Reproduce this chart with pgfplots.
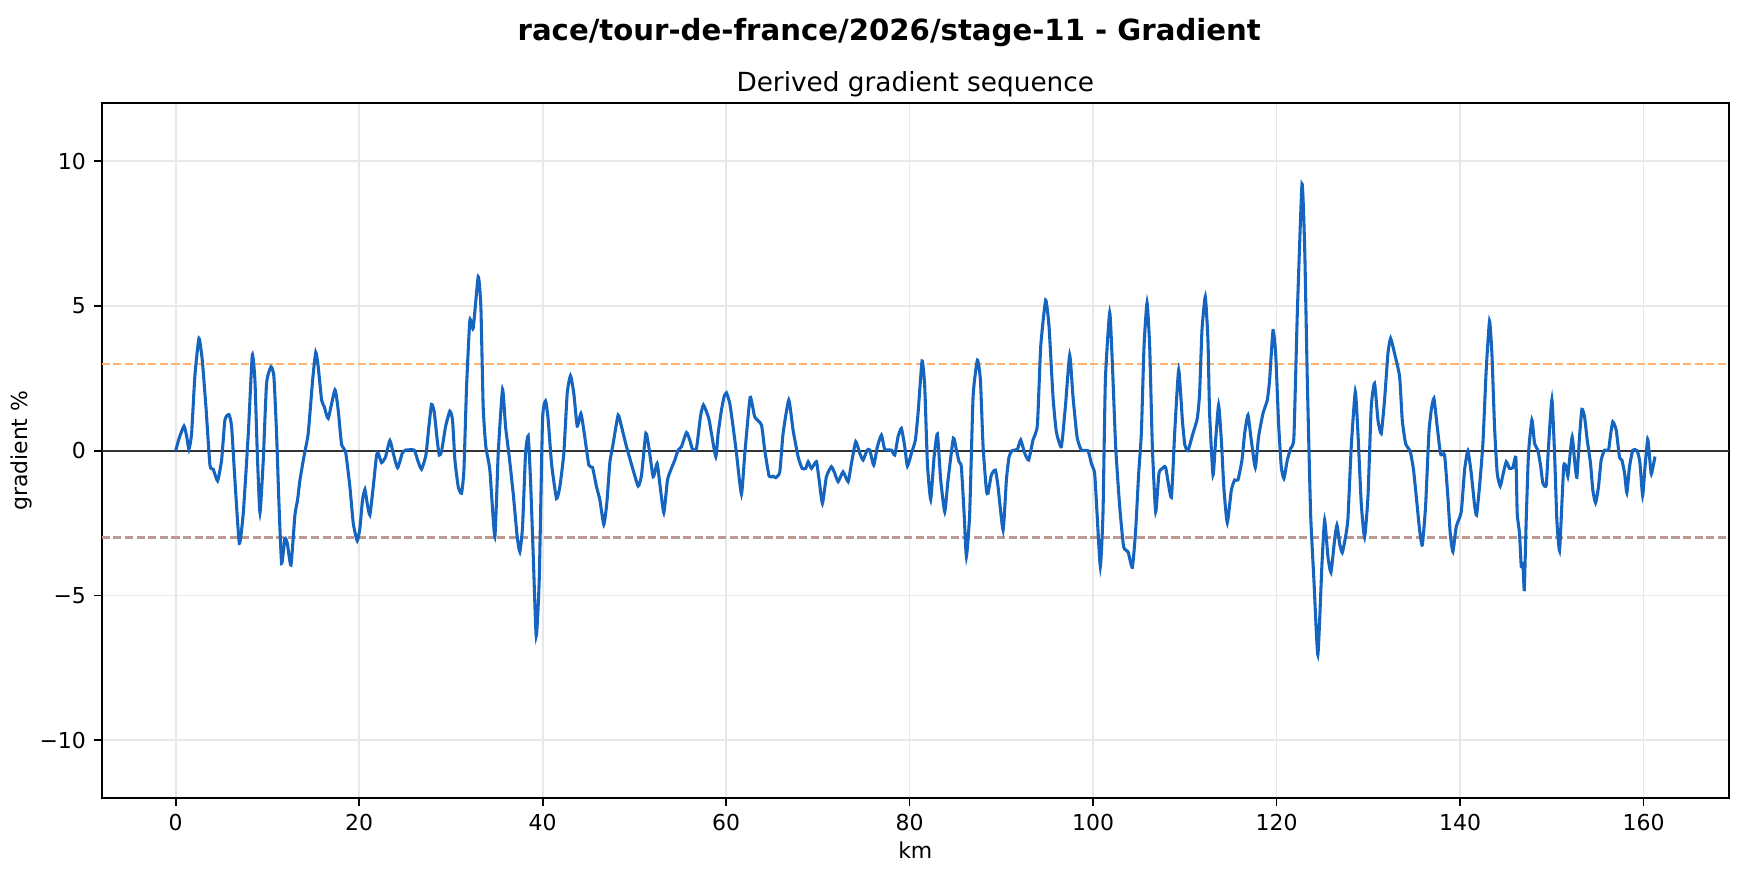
\documentclass[border=0pt]{standalone}
\usepackage{fontspec}
\setmainfont{DejaVu Sans}
\usepackage{pgfplots}
\pgfplotsset{compat=1.18}
\definecolor{gline}{RGB}{21,101,192}
\definecolor{torange}{RGB}{255,178,110}
\definecolor{tbrown}{RGB}{186,154,147}
\definecolor{gridc}{RGB}{232,232,232}
\begin{document}
\begin{tikzpicture}
\useasboundingbox (-46.36pt,-35.05pt) rectangle (748.6pt,363.8pt);
\begin{axis}[
  at={(0,0)}, anchor=south west,
  scale only axis, width=741.7pt, height=316.7pt,
  xmin=-8.06, xmax=169.3, ymin=-12, ymax=12,
  xtick={0,20,...,160}, ytick={-10,-5,0,5,10},
  yticklabels={−10,−5,0,5,10},
  xtick pos=lower, ytick pos=left,
  tick align=outside, major tick length=3.5pt,
  grid=major, major grid style={color=gridc, line width=0.8pt},
  axis line style={line width=0.8pt, black},
  tick style={line width=0.8pt, black},
  /pgf/number format/assume math mode=true,
  tick label style={font=\fontsize{10}{12}\selectfont},
  xticklabel style={inner sep=0pt, anchor=north, yshift=-3.5pt},
  yticklabel style={inner sep=0pt, anchor=east, xshift=-3.5pt},
  xlabel={km}, ylabel={gradient \%},
  xlabel style={yshift=-1.5pt},
  label style={font=\fontsize{10}{12}\selectfont},
]
\addplot[black!80, line width=0.8pt, forget plot] coordinates {(-8.06,0) (169.3,0)};
\addplot[torange, line width=1pt, dash pattern=on 3.7pt off 1.6pt, forget plot] coordinates {(-8.06,3) (169.3,3)};
\addplot[tbrown, line width=1pt, dash pattern=on 3.7pt off 1.6pt, forget plot] coordinates {(-8.06,-3) (169.3,-3)};
\addplot[gline, line width=1.4pt, smooth, tension=0.3] table {
0.0 0.0
0.4 0.45
0.91 0.85
1.2 0.5
1.45 0.05
1.74 0.6
2.1 2.6
2.54 3.88
2.9 3.13
3.3 1.52
3.74 -0.5
4.1 -0.64
4.57 -1.04
5.01 -0.32
5.37 1.06
5.81 1.25
6.1 0.83
6.46 -1.01
6.94 -3.2
7.37 -2.16
7.92 0.6
8.35 3.3
8.64 2.44
8.9 -0.09
9.19 -2.14
9.55 -0.32
9.91 2.33
10.39 2.9
10.71 2.56
11.0 0.6
11.26 -1.82
11.55 -3.89
11.91 -3.03
12.17 -3.2
12.57 -3.95
13.0 -2.22
13.29 -1.7
13.55 -1.01
13.98 -0.21
14.45 0.6
14.93 2.44
15.27 3.4
15.54 2.9
15.91 1.75
16.2 1.52
16.63 1.12
17.36 2.1
17.72 1.4
18.09 0.2
18.52 -0.03
18.99 -1.24
19.36 -2.51
19.79 -3.11
20.08 -2.68
20.37 -1.7
20.63 -1.34
20.88 -1.82
21.17 -2.22
21.54 -1.24
21.9 -0.15
22.08 -0.09
22.45 -0.41
22.88 -0.21
23.35 0.35
23.72 -0.09
24.19 -0.59
24.7 -0.09
25.06 0.02
26.0 0.02
26.37 -0.32
26.8 -0.64
27.28 -0.15
27.6 0.83
27.89 1.6
28.18 1.35
28.51 0.37
28.73 -0.15
28.98 -0.03
29.42 0.83
29.89 1.37
30.18 1.06
30.44 -0.32
30.8 -1.24
31.16 -1.47
31.42 -0.67
31.71 2.21
32.07 4.51
32.43 4.23
32.98 6.01
33.27 4.97
33.52 1.52
33.81 0.14
34.25 -0.67
34.79 -2.97
35.16 -0.09
35.63 2.12
35.96 0.83
36.36 -0.21
36.79 -1.47
37.23 -2.97
37.52 -3.49
37.81 -2.63
38.14 -0.09
38.43 0.51
38.68 -1.01
38.97 -3.55
39.3 -6.4
39.63 -4.47
39.99 1.06
40.32 1.72
40.61 1.06
40.97 -0.44
41.51 -1.65
41.88 -1.24
42.31 -0.09
42.68 1.98
43.04 2.59
43.4 1.98
43.77 0.85
44.17 1.29
44.49 0.71
45.04 -0.5
45.44 -0.58
45.87 -1.24
46.24 -1.7
46.67 -2.55
47.0 -1.8
47.33 -0.4
47.69 0.25
48.23 1.23
48.6 0.83
49.14 0.14
49.76 -0.55
50.41 -1.22
50.78 -0.84
51.25 0.6
51.57 0.14
52.05 -0.9
52.48 -0.44
52.77 -1.13
53.21 -2.14
53.61 -1.01
54.04 -0.61
54.41 -0.32
54.77 0.02
55.13 0.14
55.68 0.63
56.04 0.37
56.33 0.05
56.77 0.08
57.2 1.17
57.53 1.58
58.11 1.12
58.4 0.6
58.88 -0.21
59.13 0.6
59.49 1.4
59.78 1.87
60.04 2.0
60.4 1.63
60.76 0.83
61.13 -0.09
61.67 -1.5
62.04 -0.09
62.62 1.84
63.12 1.17
63.85 0.89
64.21 0.02
64.69 -0.88
65.12 -0.88
65.41 -0.93
65.85 -0.73
66.21 0.6
66.83 1.75
67.3 0.71
67.85 -0.21
68.28 -0.61
68.68 -0.61
68.94 -0.38
69.3 -0.61
69.84 -0.38
70.14 -1.01
70.5 -1.82
70.93 -0.9
71.48 -0.55
71.84 -0.78
72.21 -1.07
72.75 -0.73
73.3 -1.07
73.66 -0.44
74.13 0.31
74.57 -0.09
74.93 -0.32
75.37 0.02
75.66 0.02
76.09 -0.5
76.49 0.14
76.93 0.54
77.29 0.05
78.02 0.02
78.38 -0.15
78.74 0.48
79.11 0.77
79.47 0.14
79.76 -0.53
80.2 -0.09
80.63 0.37
80.92 1.29
81.36 3.1
81.65 2.21
81.94 -0.44
82.3 -1.68
82.67 -0.21
83.03 0.58
83.39 -1.01
83.83 -2.11
84.19 -1.01
84.77 0.43
85.1 0.02
85.39 -0.38
85.64 -0.55
85.94 -2.16
86.19 -3.66
86.55 -2.16
86.92 1.87
87.39 3.13
87.72 2.44
88.01 0.14
88.37 -1.36
88.55 -1.47
88.91 -0.84
89.35 -0.67
89.64 -1.24
90.19 -2.74
90.55 -1.01
90.84 -0.21
91.17 0.0
91.75 0.05
92.11 0.37
92.55 -0.09
92.98 -0.32
93.45 0.37
93.93 0.89
94.29 3.59
94.83 5.2
95.2 4.28
95.63 1.87
95.99 0.66
96.54 0.14
96.98 1.52
97.45 3.3
97.81 1.87
98.25 0.48
98.72 0.02
99.45 0.0
99.81 -0.44
100.17 -0.78
100.43 -2.16
100.79 -4.0
101.08 -2.16
101.34 2.44
101.81 4.77
102.1 3.02
102.46 0.14
102.9 -1.93
103.33 -3.32
103.81 -3.49
104.28 -4.03
104.64 -2.74
104.97 -0.78
105.26 0.6
105.55 3.59
105.88 5.11
106.17 3.59
106.46 0.14
106.82 -2.11
107.18 -0.78
107.55 -0.61
107.91 -0.58
108.53 -1.61
108.89 0.6
109.33 2.79
109.73 1.06
110.0 0.2
110.34 0.0
110.89 0.6
111.36 1.12
111.61 1.98
111.87 4.17
112.23 5.32
112.52 3.82
112.7 1.29
113.07 -0.84
113.36 0.37
113.68 1.58
113.98 0.37
114.27 -1.36
114.63 -2.49
115.07 -1.36
115.43 -1.01
115.79 -1.01
116.23 -0.32
116.52 0.6
116.88 1.23
117.24 0.37
117.68 -0.58
118.04 0.48
118.52 1.29
118.99 1.75
119.24 2.44
119.61 4.15
119.9 3.36
120.22 0.94
120.51 -0.55
120.8 -0.96
121.17 -0.32
121.53 0.08
121.89 0.48
122.26 4.74
122.77 9.21
123.06 7.05
123.35 2.44
123.71 -2.16
124.07 -4.47
124.5 -7.05
124.95 -3.89
125.24 -2.4
125.6 -3.66
125.93 -4.2
126.32 -3.09
126.58 -2.57
126.87 -3.2
127.16 -3.52
127.52 -2.97
127.78 -2.34
128.14 0.14
128.58 2.04
128.87 0.6
129.23 -1.82
129.59 -2.99
129.96 -1.59
130.32 1.52
130.68 2.33
131.05 1.06
131.41 0.6
131.77 1.75
132.14 3.36
132.43 3.88
132.86 3.36
133.41 2.56
133.7 1.06
134.06 0.25
134.57 -0.03
134.93 -0.67
135.3 -1.82
135.59 -2.74
135.88 -3.26
136.24 -1.93
136.6 0.6
136.86 1.4
137.15 1.81
137.51 0.83
137.88 -0.12
138.31 -0.15
138.67 -1.59
138.93 -2.86
139.22 -3.49
139.58 -2.63
140.13 -2.11
140.49 -0.67
140.85 0.0
141.22 -0.78
141.58 -1.88
141.8 -2.22
142.12 -1.24
142.49 0.25
142.85 2.79
143.21 4.48
143.47 3.36
143.76 0.81
144.05 -0.78
144.38 -1.22
144.67 -0.84
145.03 -0.38
145.39 -0.61
145.76 -0.58
146.08 -0.23
146.23 -2.16
146.48 -2.86
146.67 -4.0
146.85 -3.89
147.0 -4.8
147.21 -2.4
147.46 -0.09
147.83 1.06
148.12 0.25
148.48 0.02
148.77 -0.5
149.03 -1.13
149.39 -1.19
149.64 0.14
150.01 1.77
150.3 -0.09
150.55 -2.4
150.84 -3.45
151.1 -1.82
151.31 -0.5
151.57 -0.55
151.75 -0.88
151.93 -0.32
152.22 0.48
152.48 -0.32
152.73 -0.92
153.02 0.48
153.28 1.43
153.57 1.17
153.86 0.37
154.22 -0.44
154.47 -1.36
154.77 -1.8
155.09 -1.24
155.38 -0.32
155.75 0.02
156.18 0.02
156.4 0.54
156.65 1.0
157.02 0.71
157.38 -0.23
157.64 -0.32
157.93 -0.78
158.18 -1.45
158.47 -0.55
158.83 0.02
159.3 0.0
159.6 -0.4
159.9 -1.55
160.15 -0.6
160.45 0.4
160.65 -0.2
160.85 -0.8
161.25 -0.2
};
\end{axis}
\node[font=\fontsize{12}{14}\selectfont, anchor=base] at (370.85pt,322.2pt) {Derived gradient sequence};
\node[font=\bfseries\fontsize{13.3}{16}\selectfont, anchor=base] at (359pt,345.5pt) {race/tour-de-france/2026/stage-11 - Gradient};
\end{tikzpicture}
\end{document}
